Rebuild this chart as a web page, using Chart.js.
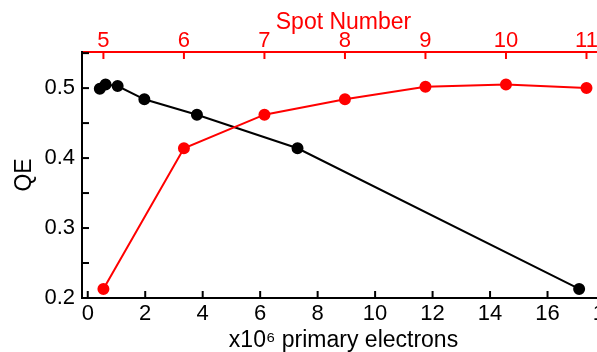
<!DOCTYPE html>
<html>
<head>
<meta charset="utf-8">
<script src="https://cdn.jsdelivr.net/npm/chart.js@4"></script>
<style>
  html, body { margin: 0; padding: 0; background: #fff; overflow: hidden; }
  #wrap { width: 612px; height: 352px; }
</style>
</head>
<body>
<div id="wrap"><canvas id="qeChart"></canvas></div>
<script>
// electrons (x10^6) vs QE, black series
const eletrons = [0.42, 0.62, 1.04, 1.97, 3.80, 7.30, 17.10];
const qeEletrons = [0.499, 0.505, 0.503, 0.484, 0.462, 0.414, 0.213];
// spot number vs QE, red series (top axis)
const spots = [5, 6, 7, 8, 9, 10, 11];
const qeSpots = [0.213, 0.414, 0.462, 0.484, 0.502, 0.505, 0.500];

// tick values
const ticksEletrons = [0, 2, 4, 6, 8, 10, 12, 14, 16, 18];
const ticksSpots = [5, 6, 7, 8, 9, 10, 11];
const ticksQE = [0.2, 0.25, 0.3, 0.35, 0.4, 0.45, 0.5, 0.55];

const fonte = 'Liberation Sans, Arial, sans-serif';
const vermelho = '#ff0000';

// ticks para dentro da area do grafico
const ticksInternos = {
    id: 'ticksInternos',
    afterDraw(chart) {
        const ctx = chart.ctx;
        const area = chart.chartArea;
        const len = 7;
        ctx.save();
        ctx.lineWidth = 2;
        const sy = chart.scales.y;
        ctx.strokeStyle = '#000';
        sy.ticks.forEach(t => {
            const p = sy.getPixelForValue(t.value);
            ctx.beginPath();
            ctx.moveTo(area.left, p);
            ctx.lineTo(area.left + len, p);
            ctx.stroke();
        });
        const sx = chart.scales.x;
        sx.ticks.forEach(t => {
            const p = sx.getPixelForValue(t.value);
            ctx.beginPath();
            ctx.moveTo(p, area.bottom);
            ctx.lineTo(p, area.bottom - len);
            ctx.stroke();
        });
        const sx2 = chart.scales.x2;
        ctx.strokeStyle = vermelho;
        sx2.ticks.forEach(t => {
            const p = sx2.getPixelForValue(t.value);
            ctx.beginPath();
            ctx.moveTo(p, area.top);
            ctx.lineTo(p, area.top + len);
            ctx.stroke();
        });
        ctx.restore();
    }
};

const usarTicks = (valores) => (scale) => {
    scale.ticks = valores.map(v => ({ value: v }));
};

const semPadding = (s) => {
    s.paddingLeft = 0;
    s.paddingRight = 0;
    s.paddingTop = 0;
    s.paddingBottom = 0;
};

new Chart(document.getElementById('qeChart'), {
    type: 'line',
    data: {
        datasets: [
            {
                label: 'Spot',
                data: spots.map((x, i) => ({ x: x, y: qeSpots[i] })),
                xAxisID: 'x2',
                yAxisID: 'y',
                borderColor: vermelho,
                backgroundColor: vermelho,
                borderWidth: 2,
                pointRadius: 5,
                pointHoverRadius: 5,
                tension: 0,
                clip: false
            },
            {
                label: 'Electrons',
                data: eletrons.map((x, i) => ({ x: x, y: qeEletrons[i] })),
                xAxisID: 'x',
                yAxisID: 'y',
                borderColor: '#000',
                backgroundColor: '#000',
                borderWidth: 2,
                pointRadius: 5,
                pointHoverRadius: 5,
                tension: 0,
                clip: false
            }
        ]
    },
    options: {
        responsive: true,
        maintainAspectRatio: false,
        animation: false,
        layout: { padding: 0 },
        plugins: {
            legend: { display: false },
            tooltip: { enabled: false }
        },
        scales: {
            x: {
                type: 'linear',
                position: 'bottom',
                min: -0.2,
                max: 18,
                afterBuildTicks: usarTicks(ticksEletrons),
                afterFit: s => { s.height = 54; semPadding(s); },
                grid: { display: true, drawOnChartArea: false, drawTicks: false },
                border: { color: '#000', width: 2 },
                ticks: {
                    padding: 3,
                    color: '#000',
                    autoSkip: false,
                    font: { family: fonte, size: 22 },
                    maxRotation: 0
                },
                title: {
                    display: true,
                    text: 'x10⁶ primary electrons',
                    color: '#000',
                    font: { family: fonte, size: 23 },
                    padding: { top: 0, bottom: -2 }
                }
            },
            x2: {
                type: 'linear',
                position: 'top',
                min: 4.734,
                max: 11.23,
                afterBuildTicks: usarTicks(ticksSpots),
                afterFit: s => { s.height = 52; semPadding(s); },
                grid: { display: true, drawOnChartArea: false, drawTicks: false },
                border: { color: vermelho, width: 2 },
                ticks: {
                    padding: -2,
                    color: vermelho,
                    autoSkip: false,
                    font: { family: fonte, size: 22 },
                    maxRotation: 0
                },
                title: {
                    display: true,
                    text: 'Spot Number',
                    color: vermelho,
                    font: { family: fonte, size: 23 },
                    padding: { top: 9, bottom: 0 }
                }
            },
            y: {
                type: 'linear',
                min: 0.2,
                max: 0.5516,
                afterBuildTicks: usarTicks(ticksQE),
                afterFit: s => { s.width = 82; semPadding(s); },
                grid: { display: true, drawOnChartArea: false, drawTicks: false },
                border: { color: '#000', width: 2 },
                ticks: {
                    padding: 7,
                    color: '#000',
                    autoSkip: false,
                    font: { family: fonte, size: 22 },
                    callback: v => (Math.round(v * 100) % 10 === 0 ? v.toFixed(1) : '')
                },
                title: {
                    display: true,
                    text: 'QE',
                    color: '#000',
                    font: { family: fonte, size: 23 },
                    padding: { top: 11, bottom: 0 }
                }
            }
        }
    },
    plugins: [ticksInternos]
});
</script>
</body>
</html>
